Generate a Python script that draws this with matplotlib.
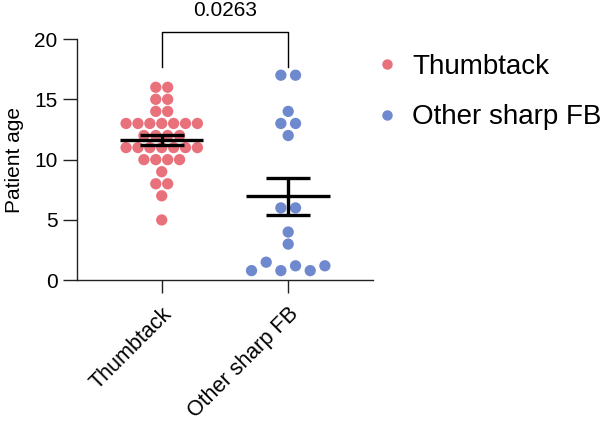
import numpy as np
import matplotlib
matplotlib.use("Agg")
import matplotlib.pyplot as plt
from matplotlib.lines import Line2D

plt.rcParams["font.family"] = ["Liberation Sans", "DejaVu Sans"]

# Data
groups = ["Thumbtack", "Other sharp FB"]
thumbtack_ages = [16, 16, 15, 15, 14, 14,
                  13, 13, 13, 13, 13, 13, 13,
                  12, 12, 12, 12,
                  11, 11, 11, 11, 11, 11, 11,
                  10, 10, 10, 10,
                  9, 8, 8, 7, 5]
other_ages = [17, 17, 14, 13, 13, 12, 6, 6, 4, 3,
              0.8, 1.5, 0.8, 1.2, 0.8, 1.2]
p_value = "0.0263"

colors = ["#E8717C", "#6F89CF"]
dot_spacing = [0.094, 0.116]


def swarm_offsets(values, spacing, tol=0.9):
    # put close values in the same row and spread the row around the centre
    values = np.asarray(values, dtype=float)
    order = np.argsort(-values, kind="stable")
    rows = []
    for i in order:
        if rows and abs(values[rows[-1][0]] - values[i]) < tol:
            rows[-1].append(i)
        else:
            rows.append([i])
    offsets = np.zeros(len(values))
    for row in rows:
        row = sorted(row)
        n = len(row)
        for k, i in enumerate(row):
            offsets[i] = (k - (n - 1) / 2) * spacing
    return offsets


fig = plt.figure(figsize=(6.1, 4.23), dpi=100)
ax = fig.add_axes([0.1262, 0.3374, 0.4852, 0.5704])

all_data = [thumbtack_ages, other_ages]
for gi, ages in enumerate(all_data):
    offs = swarm_offsets(ages, dot_spacing[gi])
    ax.scatter(gi + offs, ages, s=66, color=colors[gi], edgecolors="none",
               zorder=2, clip_on=False)
    arr = np.asarray(ages, dtype=float)
    m = arr.mean()
    sem = arr.std(ddof=1) / np.sqrt(len(arr))
    ax.plot([gi - 0.33, gi + 0.33], [m, m], color="black", lw=2.4, zorder=3,
            solid_capstyle="butt")
    ax.plot([gi, gi], [m - sem, m + sem], color="black", lw=2.4, zorder=3,
            solid_capstyle="butt")
    for y in (m - sem, m + sem):
        ax.plot([gi - 0.175, gi + 0.175], [y, y], color="black", lw=2.4,
                zorder=3, solid_capstyle="butt")

# significance bracket
ax.plot([0, 0, 1, 1], [17.7, 20.55, 20.55, 17.7], color="black", lw=1.0,
        clip_on=False)
ax.text(0.5, 21.6, p_value, ha="center", va="bottom", fontsize=15)

ax.set_xlim(-0.67, 1.67)
ax.set_ylim(0, 20)
ax.set_yticks([0, 5, 10, 15, 20])
ax.set_xticks([0, 1])
ax.set_xticklabels(groups, rotation=45, ha="right", rotation_mode="anchor",
                   fontsize=15.5)
ax.tick_params(axis="y", labelsize=15, length=10, width=1.0, pad=4)
ax.tick_params(axis="x", length=9.5, width=1.0, pad=7)
ax.set_ylabel("Patient age", fontsize=15, labelpad=7)

for side in ("top", "right"):
    ax.spines[side].set_visible(False)
for side in ("left", "bottom"):
    ax.spines[side].set_linewidth(1.0)
    ax.spines[side].set_color("#222222")
ax.tick_params(colors="#222222", labelcolor="black")

handles = [Line2D([], [], marker="o", ls="none", color=c, markersize=6.5)
           for c in colors]
fig.legend(handles, groups, loc="upper left", bbox_to_anchor=(0.566, 0.931),
           frameon=False, fontsize=20, handletextpad=0.3, labelspacing=0.87,
           handlelength=1.2)

fig.savefig("out.png", dpi=100)
